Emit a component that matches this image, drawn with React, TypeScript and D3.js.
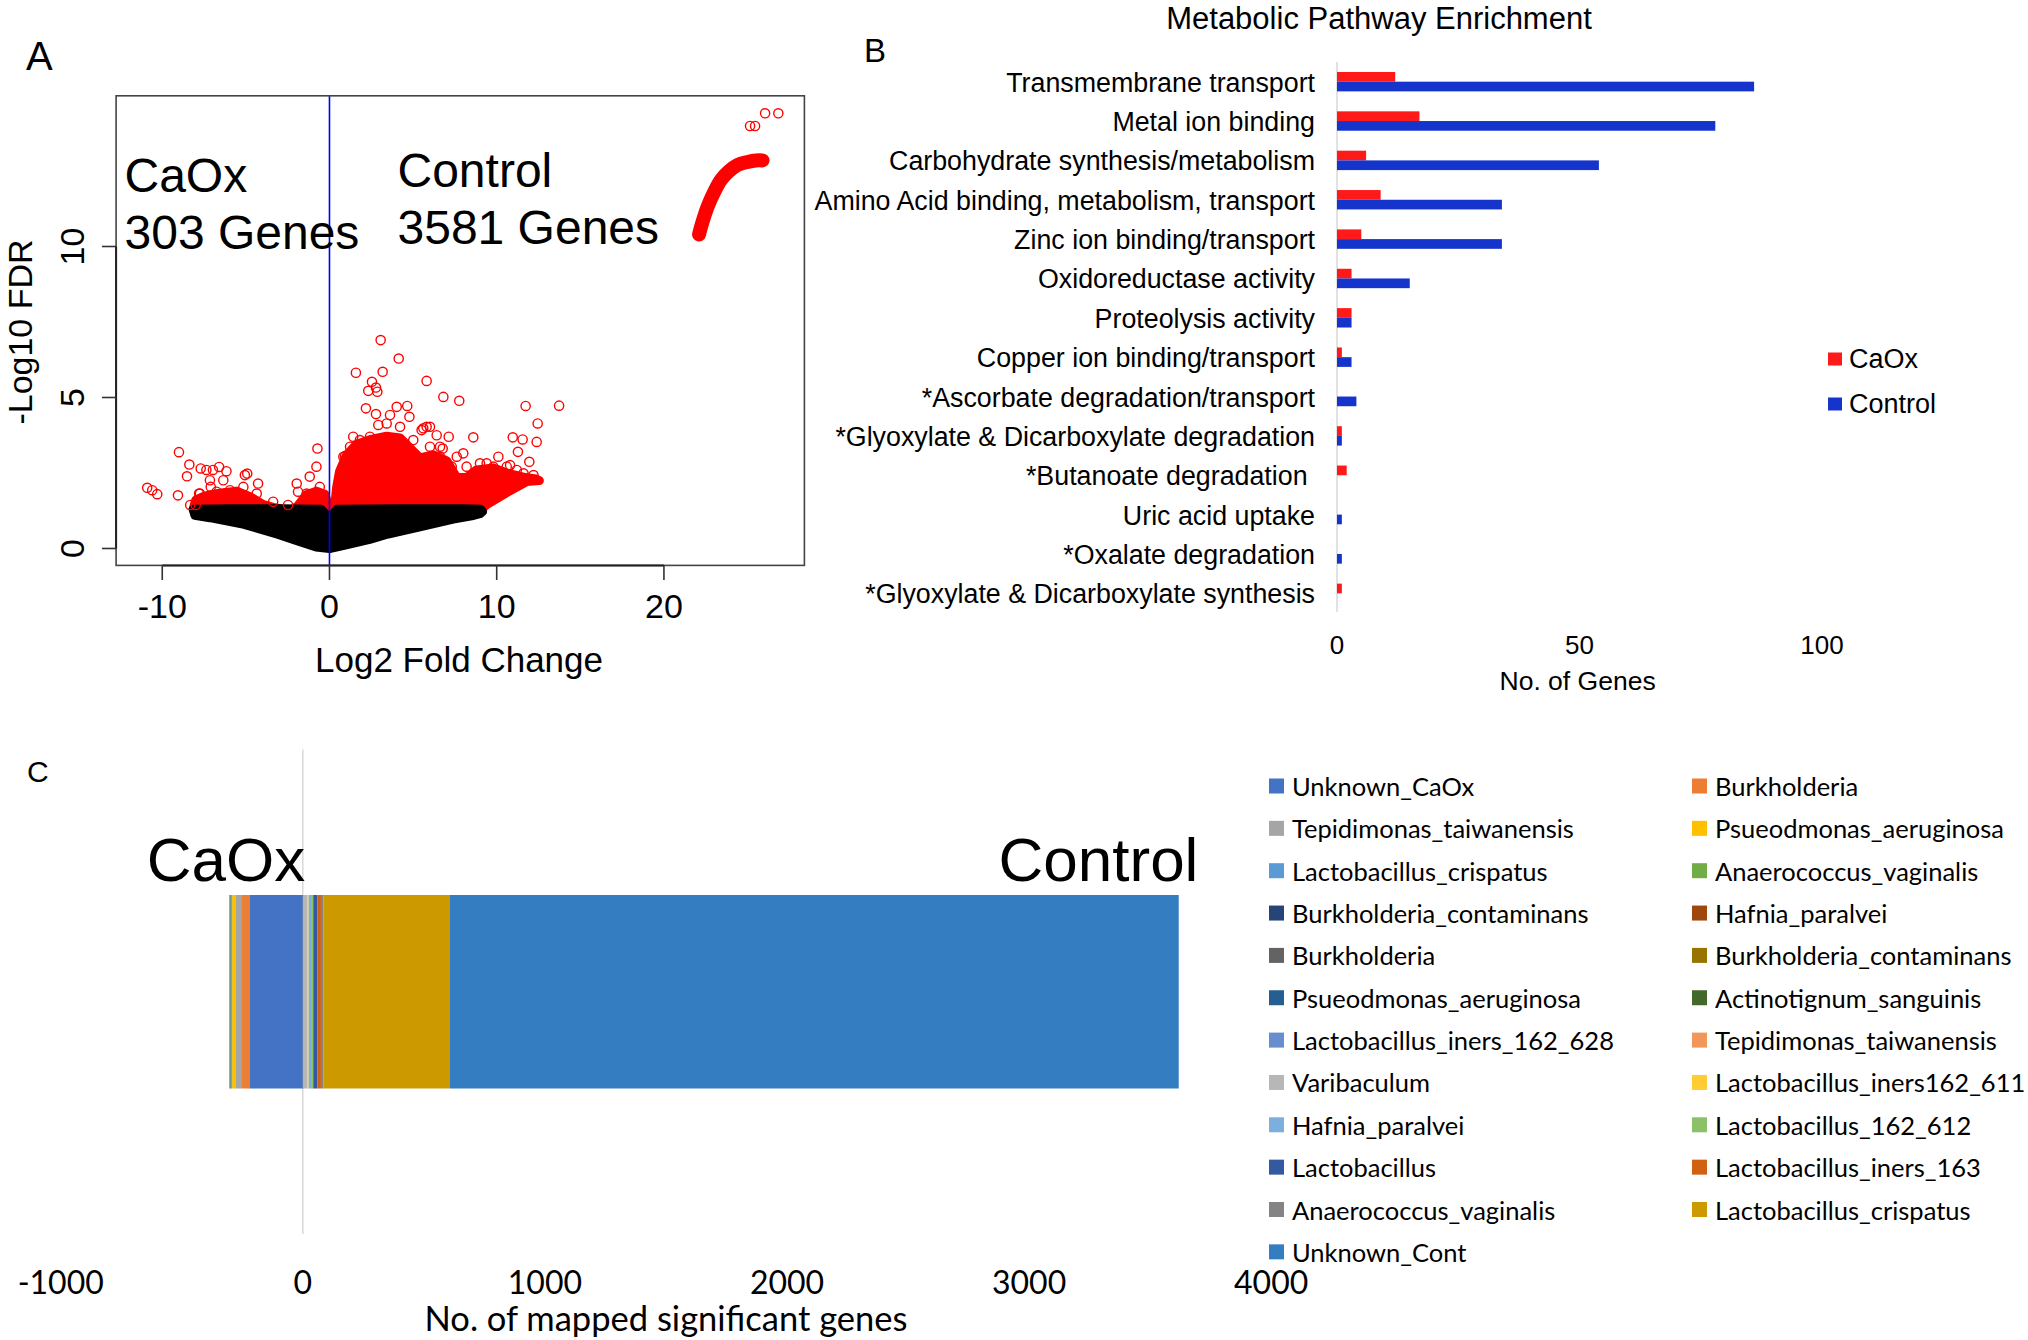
import React from 'react';
import * as d3 from 'd3';

const W = 2028;
const H = 1340;

// ---------- Panel A: volcano ----------
const volcanoXTicks = [-10, 0, 10, 20];
const volcanoYTicks = [0, 5, 10];

// dense non-significant (black) cloud outline
const blackCloudX = [-8.15, -6, -3, -0.5, -0.2, 0, 0.2, 0.45, 4, 8, 9.05, 9.15, 9.0, 8.5, 7.4, 5.4, 3.5, 2.4, 1.0, 0, -0.8, -1.9, -3.1, -5.1, -7.15, -8.05];
const blackCloudY = [1.3, 1.32, 1.32, 1.3, 1.12, 0.98, 1.12, 1.3, 1.32, 1.32, 1.3, 1.22, 1.15, 1.08, 0.97, 0.72, 0.48, 0.3, 0.12, 0.0, 0.05, 0.25, 0.47, 0.8, 1.02, 1.1];

// dense significant (red) clouds
const redRightX = [0.3, 0.42, 0.6, 1.03, 1.62, 2.42, 3.42, 4.22, 4.81, 5.41, 6.21, 7.01, 7.61, 8.2, 8.8, 9.8, 10.6, 11.6, 12.35, 12.55, 11.8, 10.6, 9.4, 9.1];
const redRightY = [1.3, 2.0, 2.55, 3.1, 3.45, 3.6, 3.72, 3.66, 3.33, 3.0, 3.1, 2.9, 2.35, 2.35, 2.6, 2.67, 2.5, 2.36, 2.3, 2.25, 2.22, 1.85, 1.45, 1.3];
const redLeftAX = [-8.15, -8.0, -7.55, -7.15, -6.35, -5.55, -4.76, -3.96, -3.36, -2.8];
const redLeftAY = [1.3, 1.6, 1.72, 1.78, 1.85, 1.9, 1.72, 1.45, 1.36, 1.3];
const redLeftBX = [-2.2, -1.88, -1.38, -0.78, -0.28, -0.08, -0.12];
const redLeftBY = [1.3, 1.42, 1.78, 1.9, 1.8, 1.45, 1.2];

// high-fold-change arc at top right
const redArcX = [22.1, 22.3, 22.6, 23.0, 23.4, 23.9, 24.4, 25.0, 25.5, 25.9];
const redArcY = [10.4, 10.8, 11.3, 11.8, 12.2, 12.5, 12.7, 12.8, 12.85, 12.85];

// individual significant genes
const redPointsX = [
  -9.0, -8.38, -8.52, -10.9, -10.6, -10.3, -9.06, -8.33, -8.0, -7.7, -7.36, -6.97, -6.6, -6.16, -7.8, -7.1, -5.06, -4.92, -4.27, -3.37, -2.48, -1.88, -1.18, -0.78, -0.72, -0.58,
  -7.15, -6.35, -5.95, -5.15, -4.35, -7.75, -6.75, -1.96, -1.36, -0.77,
  3.06, 4.14, 1.58, 3.18, 2.54, 2.32, 2.86, 2.78, 5.81, 6.81, 7.76, 11.73, 13.73, 12.45, 12.39, 11.55, 10.96, 11.27, 11.95, 8.6, 8.0, 7.13, 2.18, 4.02, 4.65, 4.78, 1.42, 0.93, 10.1, 10.8, 6.01, 6.41, 5.61, 2.78, 12.2, 6.77, 9.0,
  3.62, 2.92, 3.42, 4.22, 5.01, 6.01, 6.61, 5.51, 5.81, 7.31, 8.2, 9.4, 9.8, 10.6, 11.2, 11.6, 2.42, 1.82, 1.23, 0.83, 4.42, 6.61, 7.61, 8.8,
  22.1, 22.25, 22.4,
  25.15, 25.45, 26.05, 26.84,
];
const redPointsY = [
  3.19, 2.78, 2.39, 2.01, 1.93, 1.8, 1.76, 1.44, 1.44, 2.65, 2.6, 2.6, 2.7, 2.56, 1.82, 2.04, 2.43, 2.48, 2.15, 1.55, 1.44, 1.88, 2.38, 2.71, 3.31, 2.04,
  2.26, 2.26, 1.93, 2.04, 1.82, 1.82, 1.88, 2.15, 1.82, 1.82,
  6.9, 6.29, 5.82, 5.85, 5.52, 5.22, 5.19, 5.33, 5.55, 5.02, 4.89, 4.72, 4.73, 4.14, 3.53, 3.61, 3.68, 3.2, 2.87, 3.68, 3.15, 3.7, 4.64, 4.69, 4.72, 4.36, 3.7, 3.06, 3.04, 2.76, 4.03, 3.75, 3.98, 4.45, 2.43, 3.31, 2.82,
  4.42, 4.09, 4.14, 4.03, 3.59, 3.37, 3.04, 3.92, 4.03, 2.71, 2.71, 2.82, 2.71, 2.71, 2.6, 2.49, 3.7, 3.59, 3.37, 3.04, 3.37, 3.37, 3.04, 2.49,
  10.4, 10.65, 10.9,
  13.99, 13.99, 14.41, 14.41,
];

// ---------- Panel B: pathway enrichment ----------
const pathwayNames = [
  'Transmembrane transport',
  'Metal ion binding',
  'Carbohydrate synthesis/metabolism',
  'Amino Acid binding, metabolism, transport',
  'Zinc ion binding/transport',
  'Oxidoreductase activity',
  'Proteolysis activity',
  'Copper ion binding/transport',
  '*Ascorbate degradation/transport',
  '*Glyoxylate & Dicarboxylate degradation',
  '*Butanoate degradation\u00A0',
  'Uric acid uptake',
  '*Oxalate degradation',
  '*Glyoxylate & Dicarboxylate synthesis',
];
const caoxGenes = [12, 17, 6, 9, 5, 3, 3, 1, 0, 1, 2, 0, 0, 1];
const controlGenes = [86, 78, 54, 34, 34, 15, 3, 3, 4, 1, 0, 1, 1, 0];
const pathwayTicks = [0, 50, 100];
const pathwaySeries = ['CaOx', 'Control'];
const pathwayColors = ['#FF1A1A', '#1434CC'];

// ---------- Panel C: mapped taxa ----------
const taxaNames = [
  'Unknown_CaOx', 'Burkholderia', 'Tepidimonas_taiwanensis', 'Psueodmonas_aeruginosa',
  'Lactobacillus_crispatus', 'Anaerococcus_vaginalis', 'Burkholderia_contaminans', 'Hafnia_paralvei',
  'Burkholderia', 'Burkholderia_contaminans', 'Psueodmonas_aeruginosa', 'Actinotignum_sanguinis',
  'Lactobacillus_iners_162_628', 'Tepidimonas_taiwanensis', 'Varibaculum', 'Lactobacillus_iners162_611',
  'Hafnia_paralvei', 'Lactobacillus_162_612', 'Lactobacillus', 'Lactobacillus_iners_163',
  'Anaerococcus_vaginalis', 'Lactobacillus_crispatus', 'Unknown_Cont',
];
const taxaGenes = [-221, -30, -25, -16, -4, -3, -2, -2, 1, 1, 0, 0, 1, 1, 14, 6, 10, 9, 18, 14, 11, 522, 3010];
const taxaColors = [
  '#4472C4', '#ED7D31', '#A5A5A5', '#FFC000', '#5B9BD5', '#70AD47', '#264478', '#9E480E',
  '#636363', '#997300', '#255E91', '#43682B', '#698ED0', '#F1975A', '#B7B7B7', '#FFCD33',
  '#7CAFDD', '#8CC168', '#335AA1', '#D26012', '#848484', '#CC9A00', '#337DC0',
];
const taxaTicks = [-1000, 0, 1000, 2000, 3000, 4000];

const ARIAL = '"Liberation Sans", Arial, Helvetica, sans-serif';
const CALIBRI = 'Lato, "Open Sans", sans-serif';

export default function App() {
  // Panel A scales
  const ax = d3.scaleLinear().domain([-12.76, 28.4]).range([116.1, 804.4]);
  const ay = d3.scaleLinear().domain([-0.56, 14.99]).range([565.4, 95.8]);
  const closed = (xs: number[], ys: number[]) =>
    d3.line<number>().x((_, i) => ax(xs[i])).y((_, i) => ay(ys[i])).curve(d3.curveLinearClosed)(xs) || '';
  const open = (xs: number[], ys: number[]) =>
    d3.line<number>().x((_, i) => ax(xs[i])).y((_, i) => ay(ys[i])).curve(d3.curveCatmullRom)(xs) || '';

  // Panel B scales
  const bx = d3.scaleLinear().domain([0, 100]).range([1337, 1822]);
  const by = d3.scaleBand<string>().domain(pathwayNames).range([62, 613]).paddingInner(0);
  const barH = 9.7;

  // Panel C scales
  const cx = d3.scaleLinear().domain([-1000, 4000]).range([60.7, 1271.2]);
  const cTop = 895;
  const cBot = 1088.5;
  let neg = 0;
  let pos = 0;
  const segs = taxaGenes.map((v, i) => {
    let x0: number, x1: number;
    if (v < 0) {
      x0 = neg + v;
      x1 = neg;
      neg += v;
    } else {
      x0 = pos;
      x1 = pos + v;
      pos += v;
    }
    return { x0, x1, color: taxaColors[i], i };
  });

  return (
    <svg width={W} height={H} style={{ position: 'absolute', left: 0, top: 0, background: '#fff' }}>
      <rect x={0} y={0} width={W} height={H} fill="#fff" />

      {/* ================= Panel A ================= */}
      <g fontFamily={ARIAL}>
        <text x={26} y={70} fontSize={40}>A</text>
        {/* dense clouds */}
        <path d={closed(redRightX, redRightY)} fill="#FF0000" stroke="#FF0000" strokeWidth={9} strokeLinejoin="round" />
        <path d={closed(redLeftAX, redLeftAY)} fill="#FF0000" stroke="#FF0000" strokeWidth={9} strokeLinejoin="round" />
        <path d={closed(redLeftBX, redLeftBY)} fill="#FF0000" stroke="#FF0000" strokeWidth={9} strokeLinejoin="round" />
        <path d={closed(blackCloudX, blackCloudY)} fill="#000" stroke="#000" strokeWidth={9} strokeLinejoin="round" />
        <path d={open(redArcX, redArcY)} fill="none" stroke="#FF0000" strokeWidth={14} strokeLinecap="round" />
        {redPointsX.map((x, i) => (
          <circle key={i} cx={ax(x)} cy={ay(redPointsY[i])} r={4.6} fill="none" stroke="#FF0000" strokeWidth={1.4} />
        ))}
        {/* vertical blue line */}
        <line x1={ax(0)} x2={ax(0)} y1={95.8} y2={565.4} stroke="#0000FF" strokeWidth={1.6} />
        {/* box */}
        <rect x={116.1} y={95.8} width={804.4 - 116.1} height={565.4 - 95.8} fill="none" stroke="#444" strokeWidth={1.6} />
        {/* x axis */}
        <line x1={ax(-10)} x2={ax(20)} y1={565.4} y2={565.4} stroke="#222" strokeWidth={2} />
        {volcanoXTicks.map((t) => (
          <g key={t}>
            <line x1={ax(t)} x2={ax(t)} y1={565.4} y2={580} stroke="#333" strokeWidth={1.6} />
            <text x={ax(t)} y={617.5} fontSize={34} textAnchor="middle">{t}</text>
          </g>
        ))}
        {/* y axis */}
        <line x1={116.1} x2={116.1} y1={ay(0)} y2={ay(10)} stroke="#222" strokeWidth={2} />
        {volcanoYTicks.map((t) => (
          <g key={t}>
            <line x1={102} x2={116.1} y1={ay(t)} y2={ay(t)} stroke="#333" strokeWidth={1.6} />
            <text transform={`translate(83.5,${ay(t)}) rotate(-90)`} fontSize={34} textAnchor="middle">{t}</text>
          </g>
        ))}
        <text x={459} y={672} fontSize={35} textAnchor="middle">Log2 Fold Change</text>
        <text transform="translate(32,332) rotate(-90)" fontSize={34} textAnchor="middle">-Log10 FDR</text>
        {/* annotations */}
        <text x={124.5} y={191.5} fontSize={48}>CaOx</text>
        <text x={124.5} y={249} fontSize={48}>303 Genes</text>
        <text x={397.5} y={186.7} fontSize={48}>Control</text>
        <text x={397.5} y={244} fontSize={48}>3581 Genes</text>
      </g>

      {/* ================= Panel B ================= */}
      <g fontFamily={ARIAL}>
        <text x={1379} y={29} fontSize={31} textAnchor="middle">Metabolic Pathway Enrichment</text>
        <text x={864} y={61.6} fontSize={33}>B</text>
        <line x1={bx(0)} x2={bx(0)} y1={62} y2={612} stroke="#D9D9D9" strokeWidth={1.5} />
        {pathwayNames.map((name, i) => {
          const c = (by(name) || 0) + by.bandwidth() / 2;
          return (
            <g key={name}>
              {caoxGenes[i] > 0 && (
                <rect x={bx(0)} y={c - barH} width={bx(caoxGenes[i]) - bx(0)} height={barH} fill={pathwayColors[0]} />
              )}
              {controlGenes[i] > 0 && (
                <rect x={bx(0)} y={c} width={bx(controlGenes[i]) - bx(0)} height={barH} fill={pathwayColors[1]} />
              )}
              <text x={1315} y={c + 1} fontSize={26.8} textAnchor="end" dominantBaseline="central">{name}</text>
            </g>
          );
        })}
        {pathwayTicks.map((t) => (
          <text key={t} x={bx(t)} y={654} fontSize={26} textAnchor="middle">{t}</text>
        ))}
        <text x={1577.6} y={690} fontSize={26.5} textAnchor="middle">No. of Genes</text>
        {pathwaySeries.map((s, i) => (
          <g key={s}>
            <rect x={1828} y={353 + i * 45 - 0.5} width={14} height={13} fill={pathwayColors[i]} />
            <text x={1849} y={359 + i * 45} fontSize={27} dominantBaseline="central">{s}</text>
          </g>
        ))}
      </g>

      {/* ================= Panel C ================= */}
      <g>
        <text x={27} y={782} fontSize={30} fontFamily={ARIAL}>C</text>
        <line x1={cx(0)} x2={cx(0)} y1={749.6} y2={1234} stroke="#D9D9D9" strokeWidth={1.5} />
        {segs.map((s) =>
          s.x1 > s.x0 ? (
            <rect key={s.i} x={cx(s.x0)} y={cTop} width={cx(s.x1) - cx(s.x0)} height={cBot - cTop} fill={s.color} />
          ) : null
        )}
        <text x={146.7} y={881} fontSize={62} fontFamily={ARIAL}>CaOx</text>
        <text x={1198.4} y={881} fontSize={62} fontFamily={ARIAL} textAnchor="end">Control</text>
        {taxaTicks.map((t) => (
          <text key={t} x={cx(t)} y={1293.5} fontSize={32} fontFamily={CALIBRI} textAnchor="middle">{t}</text>
        ))}
        <text x={666} y={1331} fontSize={34.5} fontFamily={CALIBRI} textAnchor="middle">No. of mapped significant genes</text>
        {taxaNames.map((n, i) => {
          const col = i % 2;
          const row = Math.floor(i / 2);
          const yc = 786 + row * 42.35;
          const sx = col === 0 ? 1269 : 1692;
          return (
            <g key={i}>
              <rect x={sx} y={yc - 7.5} width={15} height={15} fill={taxaColors[i]} />
              <text x={sx + 23} y={yc} fontSize={25.5} fontFamily={CALIBRI} dominantBaseline="central">{n}</text>
            </g>
          );
        })}
      </g>
    </svg>
  );
}
